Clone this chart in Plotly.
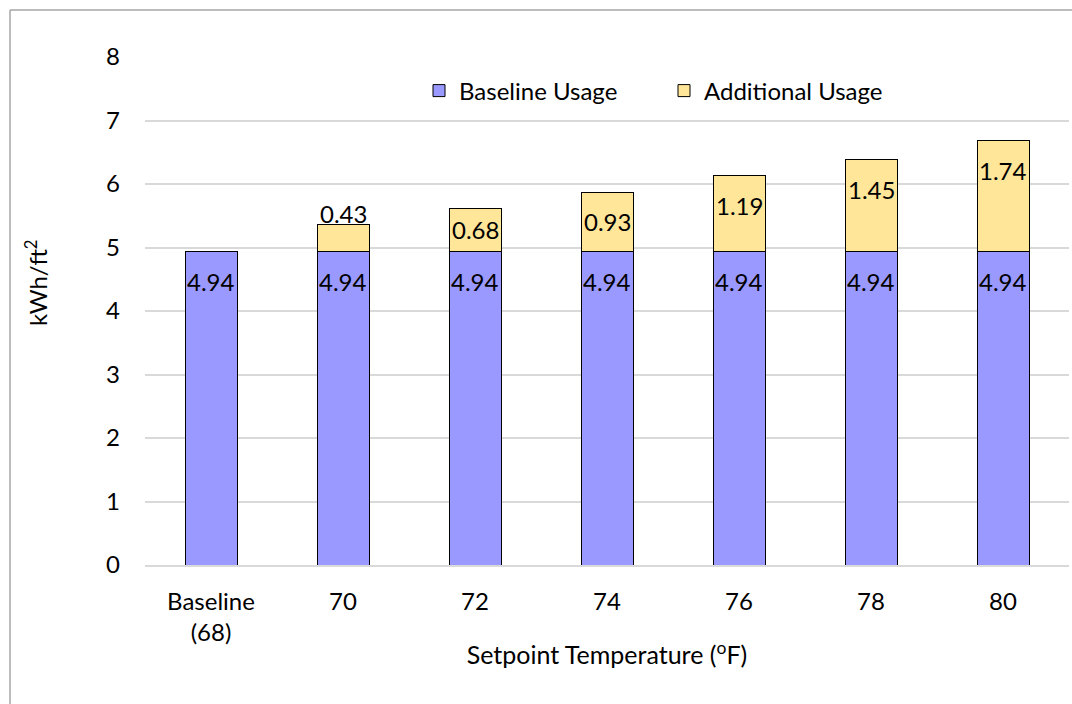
import plotly.graph_objects as go

# Data
categories = ["Baseline<br>(68)", "70", "72", "74", "76", "78", "80"]
baseline_usage = [4.94, 4.94, 4.94, 4.94, 4.94, 4.94, 4.94]
additional_usage = [0, 0.43, 0.68, 0.93, 1.19, 1.45, 1.74]
y_ticks = [0, 1, 2, 3, 4, 5, 6, 7, 8]

W, H = 1072, 704
ML, MR, MT, MB = 145, 3, 57, 139
Y_MAX = 8
FONT = "Lato"
FS = 24
px_per_unit = (H - MT - MB) / Y_MAX
plot_w = W - ML - MR
plot_h = H - MT - MB

fig = go.Figure()
fig.add_trace(go.Bar(
    x=categories, y=baseline_usage, name="Baseline Usage",
    marker=dict(color="#9999FF", line=dict(color="#000000", width=1)),
))
fig.add_trace(go.Bar(
    x=[c for c, a in zip(categories, additional_usage) if a > 0],
    y=[a for a in additional_usage if a > 0],
    name="Additional Usage",
    marker=dict(color="#FFE699", line=dict(color="#000000", width=1)),
))

# Value labels placed near the inside top of each segment
# (x given as category index so numeric-looking names are not cast to numbers)
annotations = []
for i, (b, a) in enumerate(zip(baseline_usage, additional_usage)):
    annotations.append(dict(x=i, y=b, text=f"{b:.2f}", showarrow=False,
                            yanchor="middle", yshift=-30,
                            font=dict(family=FONT, size=FS, color="#000")))
    if a > 0:
        seg_px = a * px_per_unit
        if seg_px >= 60:
            y, ys = b + a, -30
        elif seg_px >= 35:
            y, ys = b + a / 2, 0
        else:
            y, ys = b + a, 11
        annotations.append(dict(x=i, y=y, text=f"{a:.2f}", showarrow=False,
                                yanchor="middle", yshift=ys,
                                font=dict(family=FONT, size=FS, color="#000")))

# Y-axis title, set slightly above the vertical middle of the plot
annotations.append(dict(xref="paper", yref="paper",
                        x=(36 - ML) / plot_w, y=(H - MB - 283) / plot_h,
                        text="kWh/ft<sup>2</sup>", textangle=-90, showarrow=False,
                        xanchor="center", yanchor="middle",
                        font=dict(family=FONT, size=FS, color="#000")))

# Chart-area frame: only its top and left edges fall inside the page
frame_x0 = (10 - ML) / plot_w
frame_y1 = (H - MB - 10) / plot_h
frame_style = dict(color="#A6A6A6", width=1.5)
fig.add_shape(type="line", xref="paper", yref="paper",
              x0=frame_x0, x1=(W + 60 - ML) / plot_w, y0=frame_y1, y1=frame_y1,
              line=frame_style, layer="below")
fig.add_shape(type="line", xref="paper", yref="paper",
              x0=frame_x0, x1=frame_x0, y0=-(MB + 60) / plot_h, y1=frame_y1,
              line=frame_style, layer="below")

fig.update_layout(
    width=W, height=H,
    margin=dict(l=ML, r=MR, t=MT, b=MB),
    paper_bgcolor="white", plot_bgcolor="white",
    barmode="stack", bargap=0.606,
    font=dict(family=FONT, size=FS, color="#000"),
    showlegend=True,
    legend=dict(orientation="h", x=(419 - ML) / plot_w, y=(H - MB - 91) / plot_h,
                xanchor="left", yanchor="middle", font=dict(family=FONT, size=FS),
                bgcolor="rgba(0,0,0,0)", itemwidth=30, traceorder="normal",
                entrywidthmode="pixels", entrywidth=200),
    annotations=annotations,
    xaxis=dict(type="category", categoryorder="array", categoryarray=categories,
               range=[-0.5, len(categories) - 0.5],
               showgrid=False, showline=True, linecolor="#D9D9D9", linewidth=1.5,
               ticks="", tickfont=dict(family=FONT, size=FS), tickangle=0,
               ticklabelstandoff=14,
               title=dict(text="Setpoint Temperature (<sup>o</sup>F)", standoff=2,
                          font=dict(family=FONT, size=25))),
    yaxis=dict(range=[0, Y_MAX], tickvals=y_ticks, showgrid=True,
               gridcolor="#D9D9D9", gridwidth=1.5, zeroline=False,
               showline=False, ticks="", tickfont=dict(family=FONT, size=FS),
               ticklabelstandoff=24),
)

fig.write_html("out.html")
